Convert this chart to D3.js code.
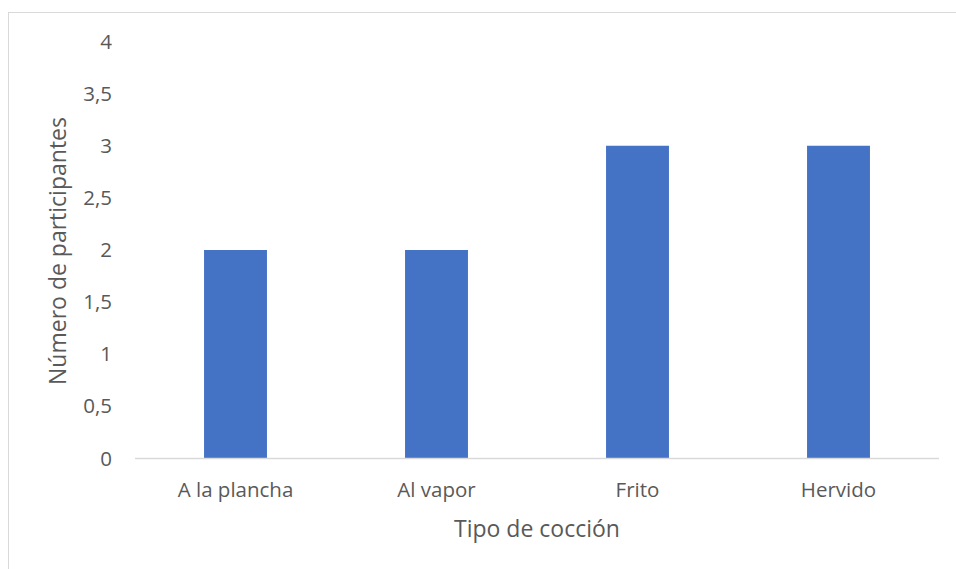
<!DOCTYPE html>
<html><head><meta charset="utf-8">
<script src="https://cdn.jsdelivr.net/npm/d3@7"></script>
<style>body{margin:0;background:#fff;} text{font-family:"Open Sans",sans-serif;fill:#595959;}</style>
</head><body><svg id="c" width="956" height="569"></svg>
<script>
const categories = ["A la plancha", "Al vapor", "Frito", "Hervido"];
const values = [2, 2, 3, 3];
const yTicks = [0, 0.5, 1, 1.5, 2, 2.5, 3, 3.5, 4];
const xTitle = "Tipo de cocción";
const yTitle = "Número de participantes";

const svg = d3.select("#c");
svg.append("rect").attr("x", 8.5).attr("y", 12.5).attr("width", 960).attr("height", 600)
  .attr("fill", "#fff").attr("stroke", "#d9d9d9");

const m = {left: 135, right: 939, top: 41.5, bottom: 458.5};
const x = d3.scaleBand().domain(categories).range([m.left, m.right]).paddingInner(0.687).paddingOuter(0.3435);
const y = d3.scaleLinear().domain([0, 4]).range([m.bottom, m.top]);

svg.selectAll("rect.bar").data(values).join("rect").attr("class", "bar")
  .attr("x", (d, i) => x(categories[i])).attr("width", x.bandwidth())
  .attr("y", d => y(d)).attr("height", d => y(0) - y(d)).attr("fill", "#4472c4");

const yAxis = svg.append("g").attr("transform", `translate(${m.left - 23},0)`)
  .call(d3.axisLeft(y).tickValues(yTicks).tickSize(0).tickPadding(0)
    .tickFormat(d => String(d).replace(".", ",")));
yAxis.select(".domain").remove();
yAxis.selectAll("text").attr("font-size", 20.5).attr("font-family", "Open Sans").attr("fill", "#595959");

svg.append("line").attr("x1", m.left).attr("x2", m.right).attr("y1", y(0)).attr("y2", y(0))
  .attr("stroke", "#d9d9d9").attr("stroke-width", 1.3);

const xAxis = svg.append("g").attr("transform", `translate(0,${m.bottom})`)
  .call(d3.axisBottom(x).tickSize(0));
xAxis.select(".domain").remove();
xAxis.selectAll("text").attr("y", 38.5).attr("dy", 0)
  .attr("font-size", 20.5).attr("font-family", "Open Sans").attr("fill", "#595959");

svg.append("text").attr("x", 537).attr("y", 537).attr("text-anchor", "middle")
  .attr("font-size", 23).text(xTitle);
svg.append("text").attr("transform", "translate(66,251) rotate(-90)").attr("text-anchor", "middle")
  .attr("font-size", 23).text(yTitle);
</script></body></html>
